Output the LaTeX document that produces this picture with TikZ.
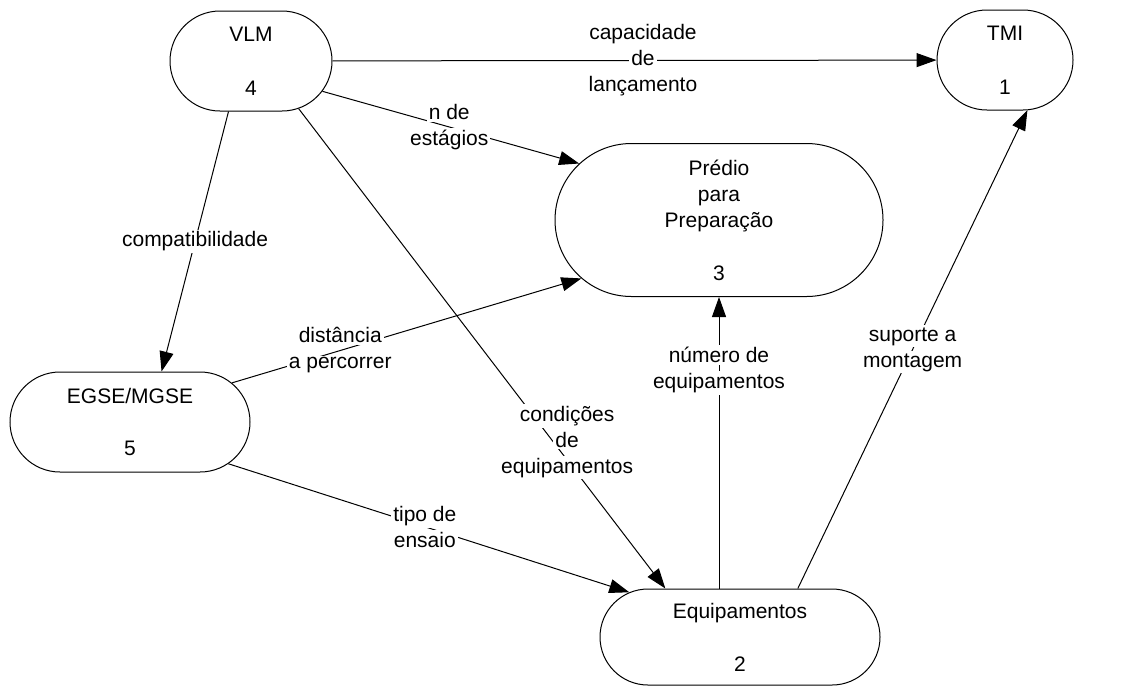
\documentclass[tikz,border=0pt]{standalone}
\usepackage{fontspec}
\setmainfont{Liberation Sans}
\usetikzlibrary{arrows.meta,shapes.misc}
\newcommand{\wl}[1]{{\setlength{\fboxsep}{1pt}\colorbox{white}{#1}}}

\begin{document}
\begin{tikzpicture}[
  x=0.5pt, y=-0.5pt, line width=0.5pt,
  >={Triangle[length=10pt,width=7pt]},
  proc/.style={draw, rounded rectangle, align=center, inner sep=0pt,
               font=\fontsize{10.5}{13}\selectfont},
  lbl/.style={align=center, inner sep=0pt, font=\fontsize{10.5}{13}\selectfont}
]
\useasboundingbox (0,0) rectangle (1133,686);

\node[proc, minimum width=81pt, minimum height=50pt] (vlm) at (251,61) {VLM\\[14pt]4};
\node[proc, minimum width=68pt, minimum height=50pt] (tmi) at (1005,60) {TMI\\[14pt]1};
\node[proc, minimum width=164pt, minimum height=76.5pt] (predio) at (719,220)
  {Prédio\\para\\Preparação\\[13.5pt]3};
\node[proc, minimum width=120pt, minimum height=50pt] (egse) at (130,422) {EGSE/MGSE\\[13pt]5};
\node[proc, minimum width=140pt, minimum height=48pt] (equip) at (740,637) {Equipamentos\\[13.5pt]2};

\draw[->] (vlm) -- (tmi)
  node[lbl, pos=0.514] (capl) {\wl{capacidade}\\\wl{de}\\\wl{lançamento}};
\draw[->] (vlm.-23) -- (predio.158)
  node[lbl, pos=0.494] (estl) {\wl{n de}\\\wl{estágios}};
\draw[->] (vlm.246) -- (egse.58)
  node[lbl, pos=0.5] (compl) {\wl{compatibilidade}};
\draw[->] (vlm.-45) -- (equip.147)
  node[lbl, pos=0.694, xshift=7pt] (condl) {\wl{condições}\\\wl{de}\\\wl{equipamentos}};
\draw[->] (egse.21) -- (predio.203)
  node[lbl, pos=0.31] (distl) {\wl{distância}\\\wl{a percorrer}};
\draw[->] (egse.-23) -- (equip.158)
  node[lbl, pos=0.49] (tipol) {\wl{tipo de}\\\wl{ensaio}};
\draw[->] (predio.south |- equip.north) -- (predio.south)
  node[lbl, pos=0.75] (numl) {\wl{número de}\\\wl{equipamentos}};
\draw[->] (equip.40) -- (tmi.294)
  node[lbl, pos=0.5] (supl) {\wl{suporte a}\\\wl{montagem}};
\end{tikzpicture}
\end{document}
